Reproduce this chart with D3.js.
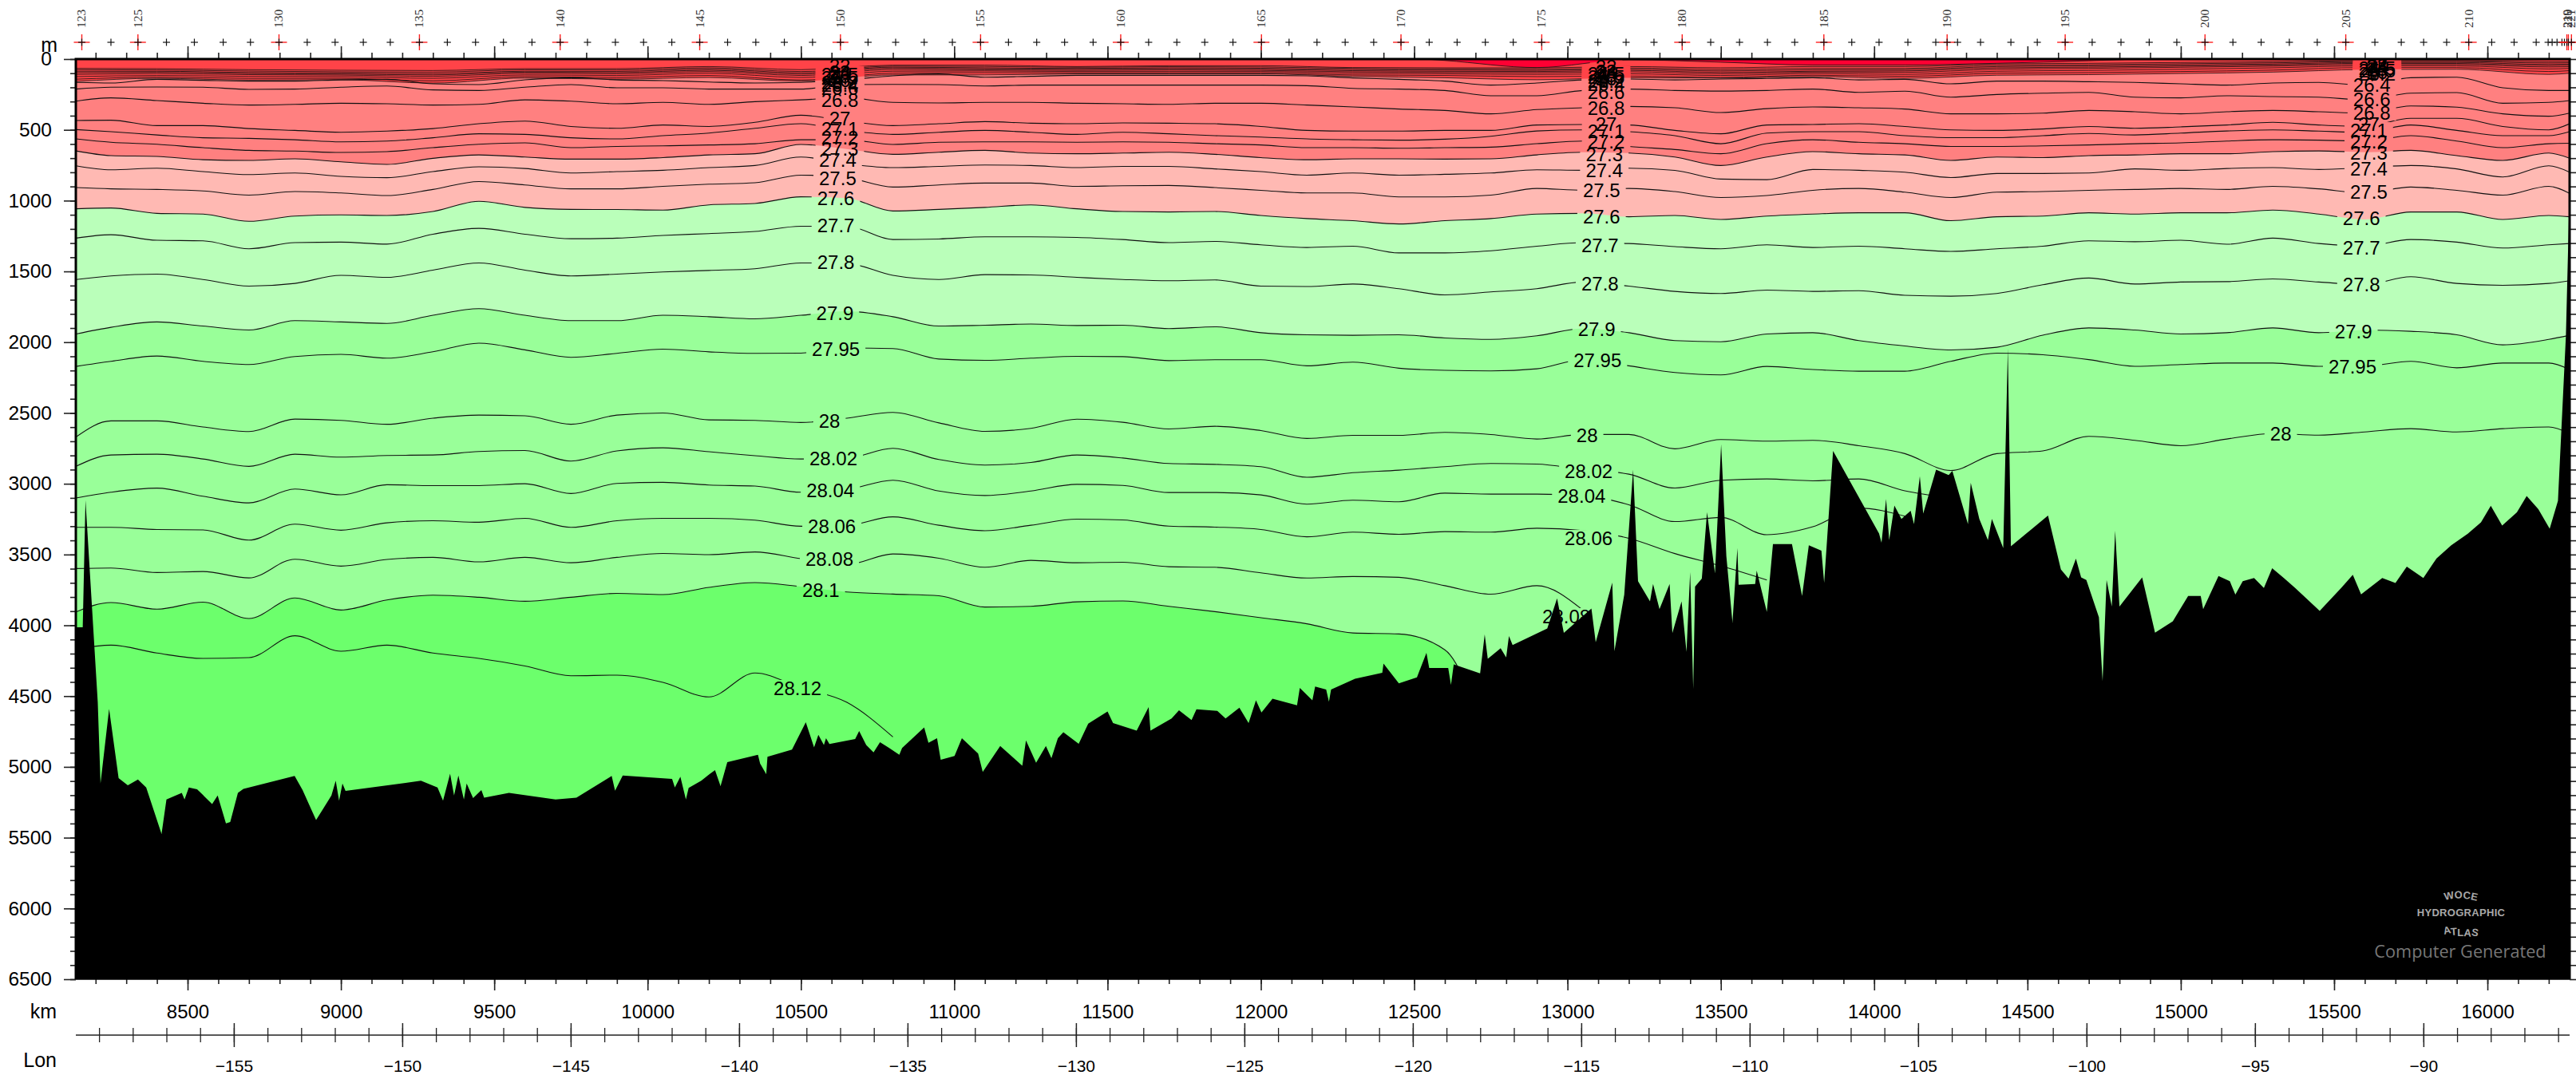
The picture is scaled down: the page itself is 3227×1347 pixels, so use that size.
<!DOCTYPE html>
<html>
<head>
<meta charset="utf-8">
<script src="https://cdn.jsdelivr.net/npm/d3@7"></script>
<style>
body { margin: 0; background: #fff; }
svg { display: block; }
text { font-family: "Liberation Sans", Arial, sans-serif; }
</style>
</head>
<body>
<svg></svg>
<script>
var width = 3227;
var height = 1347;

// x positions shared by the contours (km along section)
var kmGrid = [8136,8250,8400,8550,8700,8850,9000,9150,9300,9450,9600,9750,9900,10050,10200,10350,10500,10650,10800,
  10950,11100,11250,11400,11550,11700,11850,12000,12150,12300,12450,12600,12750,12900,13050,13200,13350,
  13500,13650,13800,13950,14100,14250,14400,14550,14700,14850,15000,15150,15300,15450,15600,15750,15900,16050,16200,16268];
var kmCoarse = [8136,8400,8700,9000,9300,9600,9900,10200,10500,10800,11100,11400,11700,12000,12300,12600,12900,13200,
  13500,13800,14100,14400,14700,15000,15300,15600,15900,16200,16268];

// Contour depths in metres, shallow ones on the coarse grid
var cSurface = [-30,-30,-30,-30,-30,-30,-30,-30,-30,-30,-30,-30,-30,-30,-30,10,60,5,22,42,42,30,12,-10,-30,-30,-30,-30,-30];
var c22 = [66,68,75,79,81,68,68,53,75,43,43,53,47,47,60,62,62,53,62,53,53,34,30,24,19,11,11,19,19];
var c23 = [75,77,85,90,92,76,77,62,88,50,52,58,54,56,66,70,72,63,74,66,66,44,40,33,27,17,17,28,27];
var c24 = [86,86,95,98,103,86,87,71,97,57,62,66,62,65,74,78,80,72,84,76,75,53,48,42,35,24,24,38,36];
var c24_5 = [96,93,102,106,112,92,95,79,106,64,68,72,70,72,82,86,88,80,94,86,84,62,57,50,42,30,31,46,44];
var c25 = [108,103,110,113,122,100,104,88,116,74,76,80,78,80,90,94,96,90,104,92,94,72,66,58,50,38,38,56,54];
var c25_5 = [124,116,122,124,136,112,116,100,130,86,84,88,88,88,100,104,108,104,116,102,108,86,80,72,62,48,48,70,66];
var c26 = [142,128,136,136,154,124,130,116,148,100,96,98,98,98,112,116,124,120,130,114,122,100,96,88,78,60,60,88,82];
var c26_2 = [158,136,148,146,170,134,142,130,156,112,112,105,105,105,122,132,146,132,134,124,136,114,110,102,92,74,72,108,100];

var c26_4 = [165,169,143,150,156,156,147,143,175,180,147,132,147,152,162,169,165,147,118,
  105,128,122,115,115,115,115,115,118,133,143,156,184,169,147,141,147,
  141,137,132,147,143,175,156,156,160,165,175,184,169,165,184,132,128,203,222,222];
var c26_6 = [212,199,197,199,214,212,199,190,218,222,199,180,203,203,212,212,212,180,179,
  180,190,184,184,184,184,184,184,188,207,212,222,259,259,222,212,222,
  226,222,212,235,227,269,250,241,235,269,274,259,265,269,288,241,237,312,306,293];
var c26_8 = [297,274,293,312,325,320,312,316,325,320,288,297,316,306,320,301,288,274,306,
  310,306,306,312,316,320,312,312,325,338,353,363,387,357,344,335,344,
  378,350,338,344,353,387,387,382,363,372,387,372,363,372,382,331,340,387,404,382];
var c27 = [434,432,470,470,491,504,517,509,491,457,438,476,489,466,476,447,397,438,470,
  457,442,453,457,451,453,457,476,504,509,509,504,504,466,462,466,504,
  528,466,462,457,476,500,504,494,476,489,479,466,447,466,476,419,419,476,500,457];
var c27_1 = [498,513,536,556,560,570,585,579,556,528,532,556,564,541,523,489,457,504,532,
  517,504,517,532,517,528,541,551,564,570,573,566,545,508,500,513,541,
  598,523,513,513,541,555,555,541,526,536,523,508,500,509,517,466,504,541,541,513];
var c27_2 = [564,588,602,626,645,650,660,654,626,602,592,626,617,613,607,598,570,570,603,
  588,585,585,588,585,588,598,607,626,626,630,626,622,598,579,617,639,
  669,598,570,588,598,617,617,613,607,598,592,579,570,573,579,541,579,626,598,595];
var c27_3 = [649,682,688,711,716,705,726,744,701,677,692,707,707,696,677,669,603,635,673,
  658,645,664,669,664,658,673,696,711,705,705,707,705,677,658,664,692,
  752,692,654,669,677,716,692,696,682,677,669,669,654,649,658,645,682,716,664,701];
var c27_4 = [754,782,771,795,816,805,829,838,795,761,773,805,795,786,767,752,692,739,767,
  758,748,752,767,758,758,776,795,820,805,820,814,805,782,786,771,786,
  848,852,780,786,799,837,808,808,805,776,786,773,767,780,767,752,776,833,754,799];
var c27_5 = [908,917,921,932,961,936,946,964,921,865,889,917,917,899,884,874,820,838,904,
  889,876,876,899,895,893,908,927,946,946,974,974,961,914,927,914,936,
  978,964,927,914,940,978,940,936,927,921,914,921,899,917,946,904,927,961,899,949];
var c27_6 = [1058,1052,1090,1095,1146,1109,1101,1105,1077,1005,1048,1062,1063,1067,1030,1020,973,983,1073,
  1062,1048,1030,1058,1077,1080,1077,1105,1127,1142,1165,1142,1127,1095,1090,1114,1105,
  1133,1109,1095,1086,1086,1142,1114,1109,1086,1095,1086,1086,1067,1095,1133,1080,1080,1133,1105,1114];
var c27_7 = [1265,1241,1280,1284,1340,1297,1293,1307,1237,1196,1237,1269,1265,1246,1233,1218,1181,1181,1275,
  1271,1256,1256,1260,1275,1297,1288,1312,1331,1322,1369,1369,1354,1322,1297,1303,1325,
  1340,1312,1331,1322,1340,1359,1340,1322,1284,1290,1280,1308,1265,1303,1322,1275,1293,1335,1312,1303];
var c27_8 = [1557,1532,1519,1557,1604,1585,1528,1542,1491,1440,1491,1532,1519,1504,1493,1481,1440,1444,1528,
  1557,1523,1525,1542,1557,1566,1560,1604,1607,1589,1622,1666,1645,1622,1575,1604,1641,
  1656,1632,1641,1636,1669,1675,1656,1594,1547,1589,1575,1572,1553,1575,1594,1538,1585,1598,1585,1566];
var c27_9 = [1942,1895,1857,1886,1914,1848,1857,1867,1810,1763,1810,1848,1848,1810,1820,1835,1810,1782,1820,
  1886,1880,1872,1882,1880,1904,1891,1933,1948,1951,1948,1970,1980,1955,1904,1933,1989,
  1997,1942,1933,1989,2027,2055,2036,1951,1899,1914,1942,1933,1899,1933,1914,1923,1948,2019,1980,1951];
var c27_95 = [2171,2135,2098,2135,2158,2101,2086,2113,2068,2007,2054,2107,2079,2049,2068,2079,2077,2041,2045,
  2119,2128,2113,2100,2102,2130,2124,2124,2167,2141,2184,2199,2203,2188,2124,2167,2214,
  2231,2171,2193,2205,2205,2135,2077,2089,2123,2170,2158,2147,2147,2170,2170,2135,2181,2147,2147,2193];
var c28 = [2669,2556,2556,2599,2631,2543,2552,2580,2537,2515,2520,2580,2515,2500,2549,2552,2567,2537,2496,
  2570,2630,2609,2544,2566,2613,2594,2624,2680,2658,2658,2637,2652,2684,2652,2652,2753,
  2688,2699,2693,2731,2787,2906,2787,2768,2665,2693,2731,2684,2645,2657,2634,2611,2634,2611,2599,2645];
var c28_02 = [2877,2797,2791,2825,2877,2791,2812,2800,2797,2772,2765,2840,2768,2746,2774,2802,2825,2819,2750,
  2829,2868,2850,2797,2818,2857,2863,2879,2954,2922,2904,2879,2857,2861,2900,2932,3030,
  2975,2966,2979,2966,3050,3101];
var c28_04 = [3101,3060,3031,3088,3135,3037,3078,3007,3013,3013,3000,3069,2998,2990,3009,3016,3060,3041,2975,
  3051,3083,3051,3004,3012,3062,3062,3079,3144,3116,3127,3066,3073,3073,3083,3148,3267,
  3238,3360,3304,3172,3229];
var c28_06 = [3308,3308,3323,3326,3398,3285,3328,3276,3261,3272,3244,3308,3261,3244,3244,3257,3300,3295,3234,
  3293,3332,3293,3250,3256,3299,3306,3323,3375,3342,3357,3338,3342,3314,3331,3385,3493,3580,3680];
var c28_08 = [3599,3595,3627,3620,3665,3533,3582,3535,3520,3552,3520,3558,3520,3492,3501,3482,3529,3571,3496,
  3526,3590,3541,3558,3554,3586,3590,3629,3666,3655,3661,3720,3780,3720,3892];
var c28_1 = [3905,3839,3886,3836,3952,3807,3892,3821,3787,3802,3830,3802,3774,3783,3732,3698,3727,3764,3779,
  3791,3871,3866,3834,3828,3866,3903,3946,3989,4054,4061,4173,4971,6500,6500,6500,6500,
  6500,6500,6500,6500,6500,6500,6500,6500,6500,6500,6500,6500,6500,6500,6500,6500,6500,6500,6500,6500];
var c28_12 = [4168,4140,4196,4234,4228,4074,4183,4140,4196,4234,4287,4356,4352,4403,4506,4337,4441,4544,4788];

// Sea floor
var bathyKm = [8135,8158,8167,8207,8216,8244,8275,8305,8338,8365,8415,8431,8481,8490,8504,8531,8580,8598,8625,8639,8664,8682,
  8849,8875,8919,8969,8983,8994,9005,9015,9261,9315,9333,9356,9369,9383,9401,9410,9431,9458,9467,9548,9700,9768,9883,9894,9919,
  10080,10089,10107,10125,10134,10175,10202,10220,10238,10260,10360,10367,10387,10391,10471,10516,10543,10557,10575,10582,10593,
  10677,10690,10713,10737,10758,10785,10821,10830,10902,10916,10944,10956,11001,11025,11078,11093,11150,11222,11234,11267,11299,
  11317,11338,11356,11406,11437,11500,11518,11595,11634,11640,11709,11733,11774,11790,11858,11885,11930,11960,11984,12002,12038,
  12118,12127,12168,12177,12213,12222,12229,12307,12396,12400,12450,12509,12540,12549,12611,12620,12629,12715,12730,12740,12782,
  12800,12809,12821,12934,12966,12988,13078,13092,13146,13153,13185,13214,13230,13269,13279,13300,13333,13342,13372,13388,13400,
  13410,13416,13438,13455,13481,13501,13518,13538,13554,13558,13612,13617,13650,13670,13732,13765,13787,13828,13837,13866,14016,
  14024,14039,14049,14066,14089,14119,14130,14149,14160,14202,14243,14255,14306,14315,14343,14371,14384,14421,14436,14446,14567,
  14609,14634,14658,14675,14692,14733,14745,14758,14775,14786,14800,14874,14916,14974,15024,15065,15073,15123,15160,15178,
  15202,15239,15271,15298,15336,15373,15453,15523,15561,15588,15657,15700,15737,15791,15834,15882,15936,15979,16011,16048,16096,
  16128,16166,16203,16230,16256,16267,16268];
var bathyDepth = [4014,4014,3116,4544,5117,4591,5079,5130,5089,5145,5474,5230,5183,5230,5145,5158,5262,5202,5399,5390,5183,5155,
  5064,5164,5376,5202,5098,5239,5117,5170,5098,5145,5239,5048,5202,5061,5230,5117,5220,5164,5217,5183,5230,5217,5064,5168,5061,
  5085,5145,5070,5230,5149,5098,5051,5023,5136,4967,4914,4976,5051,4929,4878,4685,4863,4773,4845,4798,4839,
  4803,4747,4845,4897,4826,4863,4914,4867,4722,4830,4798,4949,4923,4798,4906,5035,4852,4992,4813,4971,4852,
  4938,4798,4755,4837,4695,4608,4690,4744,4578,4744,4658,4600,4669,4593,4604,4658,4582,4690,4529,4615,4518,
  4565,4442,4529,4432,4453,4539,4453,4378,4335,4270,4410,4367,4194,4302,4302,4421,4276,4339,4065,4237,4162,
  4227,4076,4140,4022,3810,4054,3882,4119,3698,4183,3784,2900,3689,3830,3708,3886,3708,4055,3830,4187,3623,
  4450,3727,3670,3200,3633,2721,3511,3980,3454,3714,3708,3614,3905,3426,3426,3792,3435,3473,3699,2768,3351,
  3417,3107,3398,3154,3248,3191,3285,2947,3210,2900,2938,2909,3285,2994,3248,3398,3248,3454,2045,3441,3225,
  3605,3670,3529,3661,3680,3943,4394,3680,3868,3332,3868,3661,4052,3971,3792,3792,3886,3652,3689,3783,
  3689,3666,3736,3597,3666,3736,3898,3736,3643,3782,3666,3701,3585,3666,3527,3434,3353,3272,3156,3295,3202,
  3086,3179,3318,3121,1951,1000,6500];

// Contour labels, three columns of them plus 28.12
var labelText = ["22","23","24","24.5","25","25.5","26","26.2","26.4","26.6","26.8","27","27.1","27.2","27.3","27.4","27.5","27.6","27.7","27.8","27.9","27.95","28","28.02","28.04","28.06","28.08","28.1","28.12",
  "22","23","24","24.5","25","25.5","26","26.2","26.4","26.6","26.8","27","27.1","27.2","27.3","27.4","27.5","27.6","27.7","27.8","27.9","27.95","28","28.02","28.04","28.06","28.08",
  "22","23","24","24.5","25","25.5","26","26.2","26.4","26.6","26.8","27","27.1","27.2","27.3","27.4","27.5","27.6","27.7","27.8","27.9","27.95","28"];
var labelKm = [10627,10627,10627,10627,10627,10627,10627,10627,10627,10627,10627,10627,10627,10627,10627,10620,10620,10614,10614,10614,10611,10614,10593,10606,10596,10601,10593,10565,10489,
  13126,13126,13126,13126,13126,13126,13126,13126,13126,13126,13126,13126,13126,13126,13120,13120,13111,13111,13106,13106,13095,13098,13064,13069,13046,13069,12996,
  15640,15640,15640,15640,15640,15640,15640,15640,15623,15623,15623,15613,15613,15613,15613,15613,15613,15589,15589,15589,15563,15560,15326];
var labelDepth = [45,90,96,107,118,130,147,163,180,203,288,417,490,552,631,710,840,981,1173,1432,1793,2046,2554,2819,3044,3298,3529,3749,4442,
  50,85,95,105,115,128,140,155,175,231,344,457,507,581,671,783,924,1111,1314,1584,1905,2125,2655,2909,3084,3383,3935,
  32,45,55,62,72,80,90,105,180,282,378,457,502,581,660,772,936,1122,1330,1590,1922,2170,2644];

// Stations along the top
var stationFirst = 123;
var stationKm = [8155,8250,8338,8431,8522,8616,8705,8798,8890,8981,9073,9161,9256,9347,9439,9530,9623,9715,9804,9895,9987,10079,10170,10261,10353,10446,10538,10629,10719,10809,10902,
  10994,11086,11177,11269,11360,11453,11543,11634,11726,11817,11909,12002,12092,12183,12275,12368,12457,12549,12640,12732,12823,12916,13008,13099,13191,13282,13374,13467,
  13561,13652,13741,13836,13927,14016,14110,14201,14238,14272,14347,14446,14532,14623,14711,14805,14897,14987,15079,15170,15262,15354,15445,15538,15633,15719,15792,15867,15939,
  16014,16087,16159,16198,16211,16227,16243,16251,16259,16264,16274];
var stationLabels = [123,125,130,135,140,145,150,155,160,165,170,175,180,185,190,195,200,205,210,219,220,221];

var kmTicksMajor = [8500,9000,9500,10000,10500,11000,11500,12000,12500,13000,13500,14000,14500,15000,15500,16000];
var lonTicksMajor = [-155,-150,-145,-140,-135,-130,-125,-120,-115,-110,-105,-100,-95,-90];
var depthTicksMajor = [0,500,1000,1500,2000,2500,3000,3500,4000,4500,5000,5500,6000,6500];

var left = 95, right = 3219, top0 = 74, bottom = 1227;

var svg = d3.select("svg").attr("width", width).attr("height", height);

var x = d3.scaleLinear().domain([8135.5, 16268]).range([left, right]);
var y = d3.scaleLinear().domain([0, 6500]).range([top0, bottom]);
var lonX = d3.scaleLinear().domain([-159.69, -85.66]).range([left, right]);

var defs = svg.append("defs");
defs.append("clipPath").attr("id", "plot").append("rect")
  .attr("x", left).attr("y", top0).attr("width", right - left).attr("height", bottom - top0);

// Filled bands, painted top down
var bands = [
  { grid: kmCoarse, values: cSurface, color: "#ff4348" },
  { grid: kmCoarse, values: c26_2, color: "#ff8080" },
  { grid: kmGrid, values: c27_3, color: "#ffb9b3" },
  { grid: kmGrid, values: c27_6, color: "#baffba" },
  { grid: kmGrid, values: c27_9, color: "#99ff99" },
  { grid: kmGrid, values: c28_1, color: "#6cff6c" }
];
var denseLines = [cSurface, c22, c23, c24, c24_5, c25, c25_5, c26, c26_2];
var lines = [c26_4, c26_6, c26_8, c27, c27_1, c27_2, c27_3, c27_4, c27_5, c27_6, c27_7, c27_8, c27_9, c27_95,
  c28, c28_02, c28_04, c28_06, c28_08, c28_1, c28_12];

var plot = svg.append("g").attr("clip-path", "url(#plot)");
plot.append("rect").attr("x", left).attr("y", top0).attr("width", right - left).attr("height", bottom - top0).attr("fill", "#ff0033");

var bandArea = d3.area().curve(d3.curveMonotoneX)
  .x(d => x(d[0])).y0(bottom).y1(d => y(d[1]));
bands.forEach(function (b) {
  plot.append("path").attr("d", bandArea(b.values.map((v, i) => [b.grid[i], v]))).attr("fill", b.color);
});

// Labels go on top of the lines, with a gap cut out of the lines behind each one
var mask = defs.append("mask").attr("id", "gaps").attr("maskUnits", "userSpaceOnUse")
  .attr("x", 0).attr("y", 0).attr("width", width).attr("height", height);
mask.append("rect").attr("width", width).attr("height", height).attr("fill", "#fff");

var contourLine = d3.line().curve(d3.curveMonotoneX).x(d => x(d[0])).y(d => y(d[1]));
var lineGroup = plot.append("g").attr("mask", "url(#gaps)");
denseLines.forEach(function (l) {
  lineGroup.append("path").attr("d", contourLine(l.map((v, i) => [kmCoarse[i], v])))
    .attr("fill", "none").attr("stroke", "#111").attr("stroke-width", 0.8);
});
lines.forEach(function (l) {
  lineGroup.append("path").attr("d", contourLine(l.map((v, i) => [kmGrid[i], v])))
    .attr("fill", "none").attr("stroke", "#111").attr("stroke-width", 1.1);
});

var labelG = plot.append("g");
labelText.forEach(function (t, i) {
  var lx = x(labelKm[i]), ly = y(labelDepth[i]);
  var txt = labelG.append("text").attr("x", lx).attr("y", ly).attr("dy", "0.36em")
    .attr("text-anchor", "middle").attr("font-size", 24).attr("fill", "#000").text(t);
  var w = txt.node().getComputedTextLength() + 14;
  mask.append("rect").attr("x", lx - w / 2).attr("y", ly - 10).attr("width", w).attr("height", 20).attr("fill", "#000");
});

// Sea floor
var floorArea = d3.area().x(d => x(d[0])).y0(bottom).y1(d => y(d[1]));
plot.append("path").attr("d", floorArea(bathyKm.map((k, i) => [k, bathyDepth[i]]))).attr("fill", "#000");

// Watermark
var wm = svg.append("g").attr("text-anchor", "middle").attr("font-weight", "bold").attr("font-size", 13).attr("fill", "#a8a8a8");
wm.append("text").attr("x", 3083).attr("y", 1126).attr("rotate", "-12 -5 4 12").attr("dy", "2 -2 0 1").text("WOCE");
wm.append("text").attr("x", 3083).attr("y", 1148).attr("letter-spacing", 0.3).text("HYDROGRAPHIC");
wm.append("text").attr("x", 3083).attr("y", 1172).attr("rotate", "-12 -4 0 4 10").attr("dy", "-1 1 1 0 -1").text("ATLAS");
svg.append("text").attr("x", 3082).attr("y", 1200).attr("text-anchor", "middle")
  .style("font-family", "'Open Sans'").attr("font-size", 21.7).attr("fill", "#777").text("Computer Generated");

// Axes
function styleAxis(g) {
  g.select(".domain").remove();
  g.selectAll("line").attr("stroke", "#222").attr("stroke-width", 1.6);
  g.selectAll("text").attr("fill", "#000");
}

var depthMinor = d3.range(0, 6501, 100);
var kmMinor = d3.range(8200, 16268, 100);
var lonMinor = d3.range(-159, -85, 1);

// left
svg.append("g").attr("transform", `translate(${left},0)`)
  .call(d3.axisLeft(y).tickValues(depthMinor).tickSize(7).tickFormat("")).call(styleAxis);
svg.append("g").attr("transform", `translate(${left},0)`)
  .call(d3.axisLeft(y).tickValues(depthTicksMajor).tickSize(15).tickFormat(d3.format("d")).tickPadding(15))
  .call(styleAxis).call(g => g.selectAll("text").attr("font-size", 24.5).style("font-family", "'Liberation Sans'"));
// right
svg.append("g").attr("transform", `translate(${right},0)`)
  .call(d3.axisRight(y).tickValues(depthMinor).tickSize(9).tickFormat("")).call(styleAxis);
// top
svg.append("g").attr("transform", `translate(0,${top0})`)
  .call(d3.axisTop(x).tickValues(kmMinor).tickSize(8).tickFormat("")).call(styleAxis);
svg.append("g").attr("transform", `translate(0,${top0})`)
  .call(d3.axisTop(x).tickValues(kmTicksMajor).tickSize(16).tickFormat("")).call(styleAxis);
// bottom km
svg.append("g").attr("transform", `translate(0,${bottom})`)
  .call(d3.axisBottom(x).tickValues(kmMinor).tickSize(6).tickFormat("")).call(styleAxis);
svg.append("g").attr("transform", `translate(0,${bottom})`)
  .call(d3.axisBottom(x).tickValues(kmTicksMajor).tickSize(14).tickFormat(d3.format("d")))
  .call(styleAxis).call(g => g.selectAll("text").attr("y", 40).attr("dy", "0.36em").attr("font-size", 24).style("font-family", "'Liberation Sans'"));

// lon
var lonY = 1297;
svg.append("line").attr("x1", left).attr("x2", right).attr("y1", lonY).attr("y2", lonY).attr("stroke", "#222").attr("stroke-width", 1.5);
svg.append("g").attr("transform", `translate(0,${lonY})`)
  .call(d3.axisBottom(lonX).tickValues(lonMinor).tickSize(9).tickFormat("")).call(styleAxis)
  .call(g => g.selectAll("line").attr("y1", -9).attr("stroke-width", 1.3));
svg.append("g").attr("transform", `translate(0,${lonY})`)
  .call(d3.axisBottom(lonX).tickValues(lonTicksMajor).tickSize(15).tickFormat(d3.format("d"))).call(styleAxis)
  .call(g => g.selectAll("line").attr("y1", -15).attr("stroke-width", 1.5))
  .call(g => g.selectAll("text").attr("y", 38).attr("dy", "0.36em").attr("font-size", 21).style("font-family", "'Liberation Sans'"));

// heavy frame lines
svg.append("path").attr("d", `M${left},${bottom}V${top0}H${right}V${bottom}`).attr("fill", "none").attr("stroke", "#000").attr("stroke-width", 3);
svg.append("line").attr("x1", left).attr("x2", right).attr("y1", bottom).attr("y2", bottom).attr("stroke", "#000").attr("stroke-width", 1.5);

// axis names
svg.append("text").attr("x", 72).attr("y", 65).attr("text-anchor", "end").attr("font-size", 25).text("m");
svg.append("text").attr("x", 71).attr("y", 1267).attr("dy", "0.36em").attr("text-anchor", "end").attr("font-size", 25).text("km");
svg.append("text").attr("x", 71).attr("y", 1328).attr("dy", "0.36em").attr("text-anchor", "end").attr("font-size", 25).text("Lon");

// Stations: cross for each, red and bigger every fifth, number above
var stations = stationKm.map((k, i) => ({ km: k, num: stationFirst + i }));
var stY = 53;
var st = svg.append("g");
stations.forEach(function (s) {
  var sx = x(s.km);
  if (stationLabels.includes(s.num)) {
    st.append("line").attr("x1", sx - 10).attr("x2", sx + 10).attr("y1", stY).attr("y2", stY).attr("stroke", "#ff2020").attr("stroke-width", 1.4);
    st.append("line").attr("x1", sx).attr("x2", sx).attr("y1", stY - 10).attr("y2", stY + 10).attr("stroke", "#ff2020").attr("stroke-width", 1.4);
    st.append("text").attr("transform", `translate(${sx + 5},35) rotate(-90)`)
      .style("font-family", "'Liberation Serif'").attr("font-size", 15.5).attr("fill", "#333").text(s.num);
  }
  st.append("line").attr("x1", sx - 4.5).attr("x2", sx + 4.5).attr("y1", stY).attr("y2", stY).attr("stroke", "#111").attr("stroke-width", 1.2);
  st.append("line").attr("x1", sx).attr("x2", sx).attr("y1", stY - 4.5).attr("y2", stY + 4.5).attr("stroke", "#111").attr("stroke-width", 1.2);
});
</script>
</body>
</html>
